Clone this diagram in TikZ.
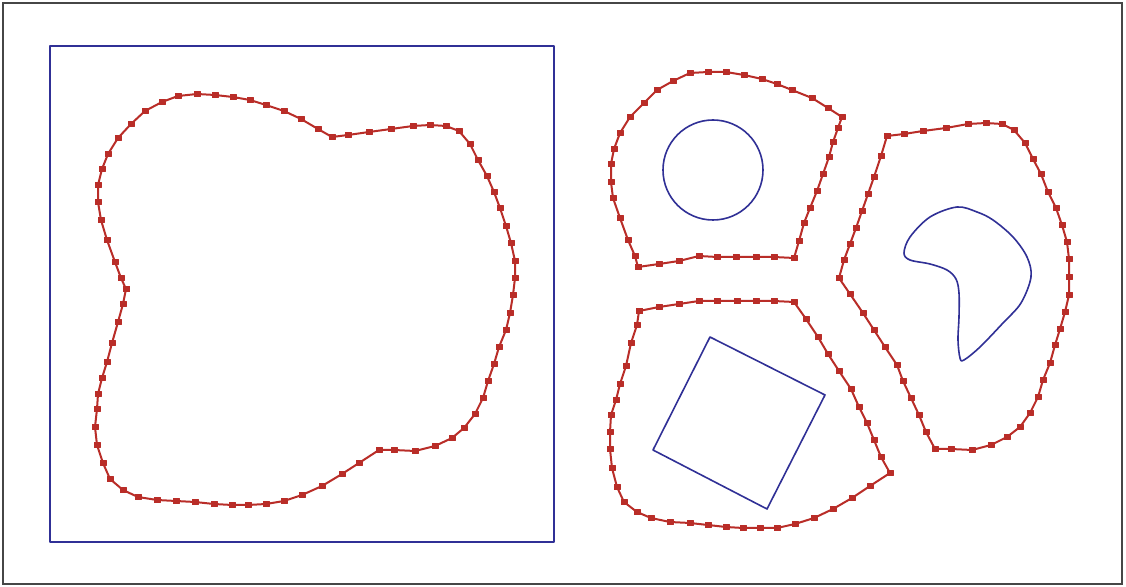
\documentclass[tikz,border=0pt]{standalone}
\usetikzlibrary{plotmarks}
\definecolor{curvered}{RGB}{185,45,40}
\definecolor{shapeblue}{RGB}{48,48,150}
\definecolor{framegray}{RGB}{70,70,70}
\tikzset{
  sampled/.style={draw=curvered, line width=1pt, line join=round,
    mark=square*, mark size=1.35pt, mark options={fill=curvered, draw=curvered, line width=0.2pt}},
  blueline/.style={draw=shapeblue, line width=0.8pt, line join=round},
  frameline/.style={draw=framegray, line width=0.8pt}
}
\begin{document}
\begin{tikzpicture}[x=0.5pt,y=-0.5pt]
\useasboundingbox (0,0) rectangle (1126,587);
\fill[white] (0,0) rectangle (1126,587);
% outer frame
\draw[frameline] (3,3) rectangle (1122,584);
% left blue square
\draw[blueline] (50,46) rectangle (554,542);
% left sampled curve
\draw[sampled] plot coordinates {(126,289) (121,278) (115,262) (107,240) (101,220) (98,202) (98,185) (102,169) (108,154) (118,138) (131,124) (145,111) (162,102) (178,96) (197,94) (215,95) (233,97) (250,100) (266,105) (284,111) (301,119) (318,129) (332,137) (348,135) (369,132) (391,129) (413,126) (430,125) (446,126) (459,131) (470,144) (478,160) (487,176) (494,192) (500,208) (506,226) (511,243) (515,261) (515,278) (513,295) (510,313) (506,330) (499,347) (494,364) (488,381) (483,398) (475,414) (464,428) (452,438) (435,446) (415,451) (394,450) (379,450) (359,463) (342,474) (322,486) (302,495) (284,501) (266,504) (248,505) (232,505) (214,504) (195,502) (176,501) (157,500) (138,497) (123,490) (110,479) (103,463) (97,445) (95,427) (97,409) (98,394) (102,378) (107,362) (112,343) (118,322) (123,304) (126,289)};
% circle region
\draw[sampled] plot coordinates {(638,267) (635,256) (628,240) (620,218) (613,198) (611,182) (611,164) (614,149) (620,133) (630,117) (644,103) (657,90) (673,81) (690,73) (708,72) (726,72) (744,75) (762,79) (777,84) (792,90) (812,98) (828,108) (842,117) (838,128) (833,142) (829,157) (823,174) (817,191) (810,208) (804,223) (799,241) (794,258) (774,257) (756,257) (736,257) (717,257) (699,256) (679,261) (659,264) (638,267)};
\draw[blueline] (713,170) circle[radius=50];
% blob region
\draw[sampled] plot coordinates {(887,136) (904,134) (923,131) (946,128) (968,124) (986,123) (1002,124) (1014,130) (1025,143) (1033,159) (1041,174) (1048,192) (1056,208) (1062,225) (1067,242) (1069,259) (1069,277) (1069,295) (1065,312) (1060,329) (1055,345) (1050,363) (1043,380) (1038,397) (1030,413) (1020,427) (1007,437) (991,445) (972,450) (951,449) (935,449) (926,432) (919,415) (911,398) (903,381) (897,365) (885,347) (874,330) (863,313) (850,294) (839,278) (844,260) (850,244) (856,228) (862,211) (868,194) (874,177) (881,156) (887,136)};
\draw[blueline] plot[smooth cycle, tension=0.55] coordinates {(904,253) (910,237) (930,217) (957,207) (977,212) (993,220) (1013,237) (1027,257) (1031,277) (1021,303) (1003,323) (980,347) (964,360) (960,358) (958,340) (959,317) (959,293) (956,279) (947,270) (930,264) (910,260)};
% square region
\draw[sampled] plot coordinates {(639,311) (659,307) (679,304) (699,301) (717,301) (737,301) (756,301) (774,301) (794,302) (806,319) (818,337) (828,354) (839,371) (851,389) (859,407) (867,423) (874,440) (881,457) (890,473) (870,486) (852,498) (833,509) (814,518) (795,524) (777,528) (760,528) (743,528) (726,527) (708,525) (690,523) (670,522) (651,518) (637,512) (624,502) (617,487) (612,468) (610,449) (610,432) (611,415) (616,400) (620,384) (626,366) (631,343) (637,325) (639,311)};
\draw[blueline] (710,337) -- (825,395) -- (767,509) -- (653,450) -- cycle;
\end{tikzpicture}
\end{document}
